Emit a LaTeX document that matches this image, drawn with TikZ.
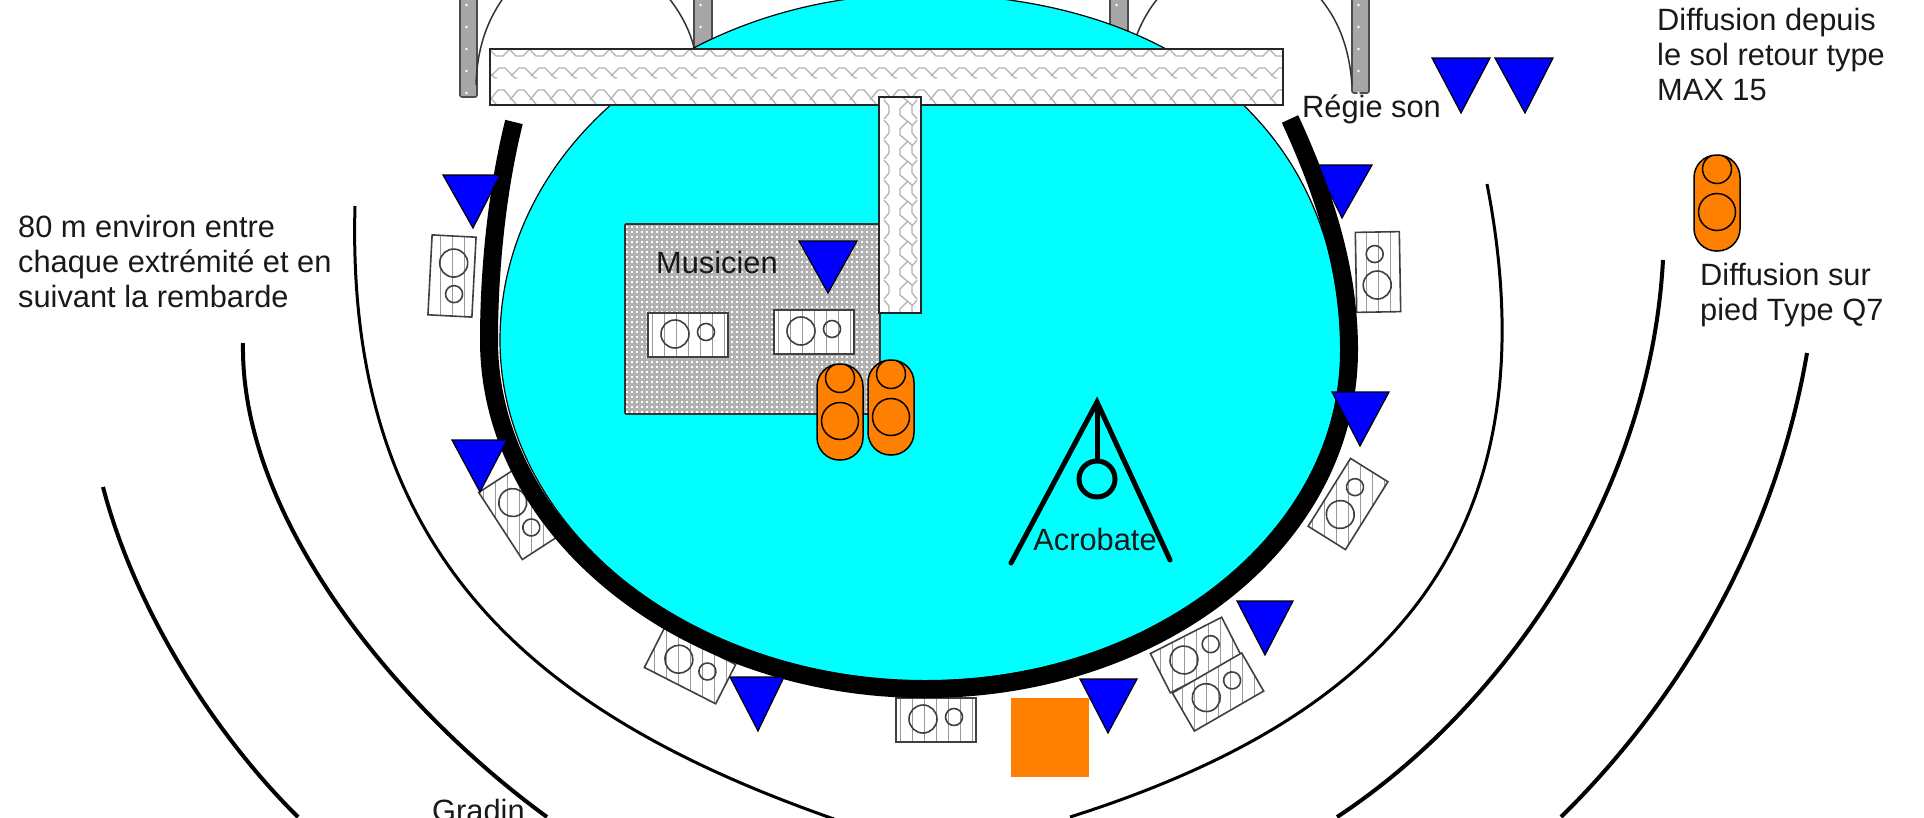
\documentclass[tikz,border=0pt]{standalone}
\usepackage{fontspec}
\setmainfont{Liberation Sans}
\usetikzlibrary{calc}
\definecolor{caporange}{HTML}{FF8000}
\definecolor{stage}{HTML}{00FFFF}
\tikzset{
  px/.style={x=1pt,y=-1pt},
  bluetri/.style={fill=blue,draw=black,line width=1.2pt,line join=miter},
  outline/.style={draw=black!75,line width=1.6pt},
  capsule/.style={fill=caporange,draw=black,line width=1.5pt,rounded corners=22.5pt},
  thinring/.style={draw=black,line width=3pt},
  midring/.style={draw=black,line width=4pt},
  label/.style={inner sep=0pt,font=\fontsize{30.8}{35}\selectfont,align=left,text=black!90},
  hatchline/.style={draw=black!40,line width=1pt},
  weave/.style={draw=black!30,line width=1.3pt},
  acro/.style={draw=black,line width=5pt}
}
\newcommand{\spk}[3]{%
  \begin{scope}[shift={(#1,#2)}]
    \fill[white,rotate=#3] (-40,-22) rectangle (40,22);
    \begin{scope}
      \clip[rotate=#3] (-40,-22) rectangle (40,22);
      \foreach \hx in {-60,-48,...,60} \draw[hatchline] (\hx,-60) -- (\hx,60);
    \end{scope}
    \draw[outline,rotate=#3] (-40,-22) rectangle (40,22);
    \draw[outline,rotate=#3] (-13,-1) circle (14);
    \draw[outline,rotate=#3] (18,-3) circle (8.5);
  \end{scope}}
\newcommand{\tri}[5]{\draw[bluetri] (#1,#3) -- (#2,#3) -- (#4,#5) -- cycle;}
\newcommand{\stand}[3]{% left, top, height
  \path[capsule] (#1,#2) rectangle ++(46,#3);
  \begin{scope}
    \clip[rounded corners=22.5pt] (#1,#2) rectangle ++(46,#3);
    \draw[draw=black,line width=1.5pt] ($(#1,#2)+(23,14)$) circle (14.5);
  \end{scope}
  \draw[draw=black,line width=1.5pt] ($(#1,#2)+(23,57)$) circle (18.5);}
\newcommand{\truss}[3]{% left, right, bottom
  \fill[black!35] (#1,-8) rectangle (#2,#3);
  \draw[draw=black!70,line width=1.6pt,rounded corners=2pt] (#1,-8) rectangle (#2,#3);
  \foreach \dy in {5,27,...,#3} \fill[white] ({#1+6.5},\dy) circle (1.3);}
\begin{document}
\begin{tikzpicture}[px]
\useasboundingbox (0,0) rectangle (1924,817);
\clip (0,0) rectangle (1924,817);
% truss columns and door arcs
\truss{460}{477}{97}
\truss{694}{712}{60}
\truss{1110}{1128}{60}
\truss{1352}{1369}{93}
\draw[draw=black!80,line width=1.5pt] (476,85) .. controls (477,50) and (486,22) .. (504,-3);
\draw[draw=black!80,line width=1.5pt] (668,-3) .. controls (680,12) and (690,30) .. (694,48);
\draw[draw=black!80,line width=1.5pt] (1135,40) .. controls (1140,25) and (1148,10) .. (1159,-3);
\draw[draw=black!80,line width=1.5pt] (1319,-3) .. controls (1337,18) and (1349,45) .. (1352,85);
% stage
\draw[fill=stage,draw=black,line width=1.2pt]
  (920,-6) .. controls (1175,-6) and (1341,130) .. (1341,350)
  .. controls (1341,535) and (1150,681) .. (925,681)
  .. controls (690,681) and (500,528) .. (500,340)
  .. controls (500,145) and (690,-6) .. (920,-6) -- cycle;
% musician platform
\begin{scope}
  \clip (625,224) rectangle (880,414);
  \fill[black!30] (625,224) rectangle (880,414);
  \foreach \ry in {227,232,...,414}
    \draw[white,line width=1.7pt,dash pattern=on 1.7pt off 3.3pt] (626,\ry) -- (880,\ry);
\end{scope}
\draw[draw=black!80,line width=1.6pt,rounded corners=1pt] (625,224) rectangle (880,414);
% long horizontal bar
\fill[white] (490,49) rectangle (1283,105);
\begin{scope}
  \clip (490,49) rectangle (1283,105);
  \foreach \wx in {470,490,...,1290} {
    \draw[weave] (\wx,50) -- (\wx+6,56) -- (\wx+13,56) -- (\wx+19,50);
    \draw[weave] (\wx+1,76) -- (\wx+9,68) -- (\wx+15,68) -- (\wx+25,78) -- (\wx+27,78);
    \draw[weave] (\wx,100) -- (\wx+8,90) -- (\wx+14,90) -- (\wx+26,104);
  }
\end{scope}
\draw[outline,draw=black!85] (490,49) rectangle (1283,105);
% vertical bar
\fill[white] (879,97) rectangle (921,313);
\begin{scope}
  \clip (879,97) rectangle (921,313);
  \foreach \wy in {80,100,...,320} {
    \draw[weave] (884,\wy) -- (889,\wy+6) -- (889,\wy+13) -- (884,\wy+19);
    \draw[weave] (908,\wy+1) -- (900,\wy+9) -- (900,\wy+15) -- (912,\wy+25);
    \draw[weave] (917,\wy) -- (912,\wy+6) -- (912,\wy+13) -- (917,\wy+19);
  }
\end{scope}
\draw[outline,draw=black!85] (879,97) rectangle (921,313);
% speakers
\spk{688}{335}{0}
\spk{814}{332}{0}
\spk{452}{276}{-93}
\spk{1378}{272}{91}
\spk{519}{514}{-57}
\spk{690}{666}{-27}
\spk{936}{720}{0}
\spk{1196}{655}{27}
\spk{1218}{692}{30}
\spk{1348}{504}{58}
% orange square
\fill[caporange] (1011,698) rectangle (1089,777);
% triangle beneath the ring
\tri{1316}{1372}{165}{1342}{218}
% black ring
\draw[draw=black,line width=18pt]
  (514,122) .. controls (497,190) and (489,270) .. (489,340)
  .. controls (489,535) and (690,689) .. (925,689)
  .. controls (1160,689) and (1349,540) .. (1349,350)
  .. controls (1349,270) and (1325,195) .. (1290,119);
% triangles
\tri{443}{500}{175}{473}{228}
\tri{799}{857}{241}{828}{293}
\tri{1432}{1490}{58}{1461}{113}
\tri{1495}{1553}{58}{1525}{113}
\tri{1332}{1389}{392}{1360}{446}
\tri{1237}{1293}{601}{1265}{655}
\tri{1080}{1137}{679}{1108}{733}
\tri{730}{784}{677}{758}{731}
\tri{452}{507}{440}{480}{492}
% capsules on stands
\stand{817}{364}{96}
\stand{868}{360}{95}
\stand{1694}{155}{96}
% acrobat rig
\draw[acro,line cap=round] (1011,563) -- (1097,402) -- (1170,560);
\draw[acro] (1097,402) -- (1097,461);
\draw[acro] (1097,479) circle (18);
% outer rows
\draw[thinring] (355,206) .. controls (345,560) and (540,716) .. (834,819);
\draw[thinring] (1487,184) .. controls (1560,560) and (1360,725) .. (1070,817);
\draw[midring] (243,343) .. controls (240,520) and (400,710) .. (547,817);
\draw[midring] (1663,260) .. controls (1650,500) and (1500,710) .. (1337,817);
\draw[midring] (103,487) .. controls (135,610) and (215,735) .. (298,817);
\draw[midring] (1807,353) .. controls (1775,540) and (1680,700) .. (1561,817);
% labels
\node[label,anchor=west] (musicien) at (656,262) {Musicien};
\node[label,anchor=center] (acrobate) at (1095,539) {Acrobate};
\node[label,anchor=west] (regie) at (1302,109) {Régie son};
\node[label,anchor=west] (diffmax) at (1657,54) {Diffusion depuis\\le sol retour type\\MAX 15};
\node[label,anchor=west] (diffq) at (1700,295) {Diffusion sur\\pied Type Q7};
\node[label,anchor=west] (dist) at (18,261) {80 m environ entre\\chaque extrémité et en\\suivant la rembarde};
\node[label,anchor=base west] (gradin) at (432,821) {Gradin};
\end{tikzpicture}
\end{document}
